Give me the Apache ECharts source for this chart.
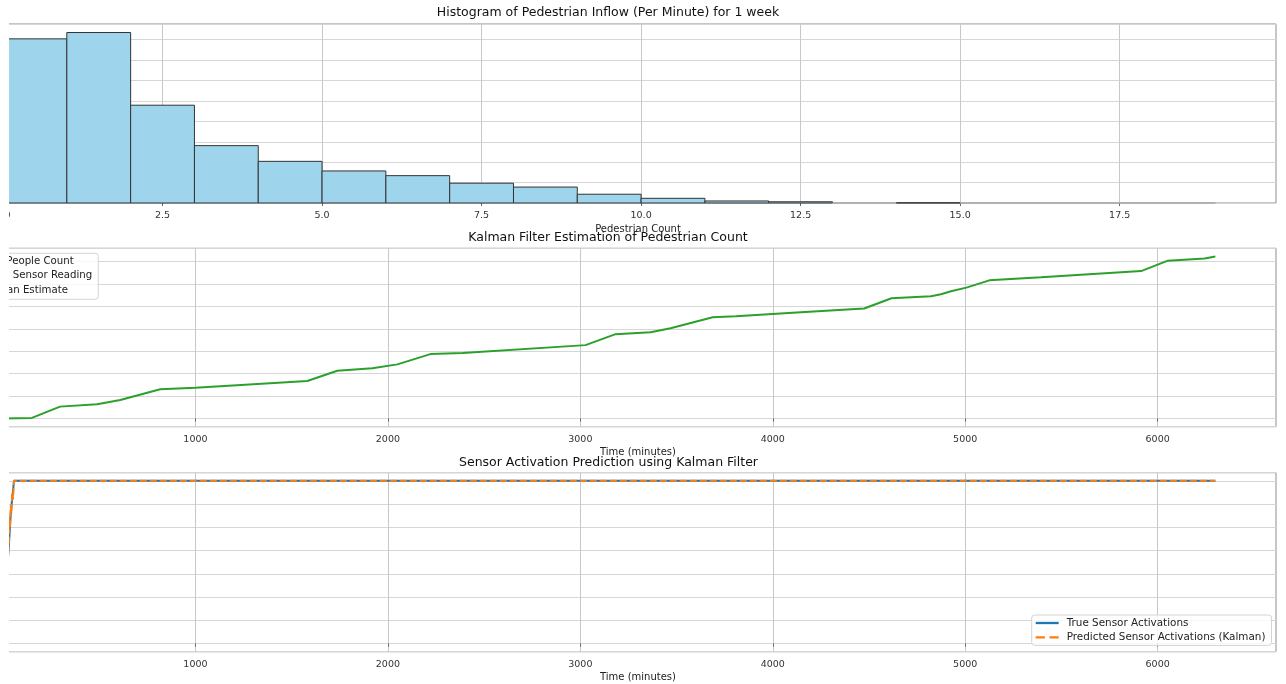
<!DOCTYPE html>
<html><head><meta charset="utf-8">
<script src="https://cdn.jsdelivr.net/npm/echarts@6/dist/echarts.min.js"></script>
<style>html,body{margin:0;padding:0;background:#fff}#c{width:1286px;height:684px}</style>
</head><body><div id="c"></div>
<script>
// ---- Panel 1: histogram of pedestrian inflow per minute ----
const histBinStart = [0,1,2,3,4,5,6,7,8,9,10,11,12,13,14,15,16,17,18];
const histBinEnd   = [1,2,3,4,5,6,7,8,9,10,11,12,13,14,15,16,17,18,19];
const histCounts   = [1608,1670,958,562,408,314,268,194,156,86,46,20,12,0,2,0,0,0,0];

// ---- Panel 2: Kalman estimate of cumulative pedestrian count ----
const kalmanTime = [0,150,296,489,609,817,999,1581,1737,1919,2049,2221,2388,3027,3183,3365,3469,3688,3808,4146,4475,4617,4822,4874,4926,5006,5125,5394,5914,6053,6244,6300];
const kalmanEstimate = [0,60,1067,1280,1662,2614,2756,3351,4267,4480,4836,5752,5841,6552,7530,7708,8063,9041,9130,9486,9815,10730,10908,11086,11352,11681,12330,12597,13157,14082,14286,14464];
const trueCountTime = [];
const trueCountValues = [];
const noisyTime = [];
const noisyValues = [];

// ---- Panel 3: sensor activation prediction ----
const sensorTrueTime = [0,10,20,31,36,42,50,57,6300];
const sensorTrue     = [0,1.5,3.0,4.3,5.0,5.8,6.4,7,7];
const sensorPredTime = [0,10,20,31,33,36,40,44,47,52,57,6300];
const sensorPred     = [0,1.1,2.8,4.5,5.5,5.0,5.9,5.6,6.5,6.2,7,7];

// tick steps / titles
const histXTickStep = 2.5;
const histYTickStep = 200;
const timeTickStep = 1000;
const kalmanYTickStep = 2000;
const sensorYTickStep = 1;
const titles = [
  'Histogram of Pedestrian Inflow (Per Minute) for 1 week',
  'Kalman Filter Estimation of Pedestrian Count',
  'Sensor Activation Prediction using Kalman Filter'
];
const legend2Names = ['True People Count','Noisy Sensor Reading','Kalman Estimate'];
const legend3Names = ['True Sensor Activations','Predicted Sensor Activations (Kalman)'];

const FONT = 'DejaVu Sans';
const histMax = Math.max(...histCounts) * 1.05;
const kMin = Math.min(...kalmanEstimate), kMax = Math.max(...kalmanEstimate), kR = kMax - kMin;
const sMin = 0, sMax = 7, sR = sMax - sMin;
// the picture is cropped: the visible area starts a little right of the real axes' left edge
const histXMin = -0.0473, histXMax = 19.95;
const timeXMin = -15.7, timeXMax = 6615;

const gridCommon = {left: 0, right: 10, show: true, borderColor: '#8a8a8a', borderWidth: 1,
  backgroundColor: 'transparent', outerBoundsMode: 'none', containLabel: false};
const vSplit = {show: true, lineStyle: {color: '#c8c8c8', width: 1}};
const hSplit = {show: true, lineStyle: {color: '#d6d6d6', width: 1}};
const tickLbl = {color: '#333', fontFamily: FONT, fontSize: 9.5, margin: 7.5, showMinLabel: false, showMaxLabel: false};
const nameTS = {color: '#222', fontFamily: FONT, fontSize: 10};
const titleStyle = {fontFamily: FONT, fontSize: 12.5, fill: '#111', align: 'center', verticalAlign: 'middle'};
const solidIcon = 'path://M0,0h20v2H0z';
const dashIcon = 'path://M0,0h8v2H0z M12,0h8v2h-8z';

const chart = echarts.init(document.getElementById('c'), null, {renderer: 'canvas'});
const option = {
  animation: false,
  backgroundColor: '#fff',
  grid: [
    Object.assign({top: 24, height: 179}, gridCommon),
    Object.assign({top: 248.3, height: 178.4}, gridCommon),
    Object.assign({top: 472.7, height: 179}, gridCommon)
  ],
  xAxis: [
    {gridIndex: 0, type: 'value', min: histXMin, max: histXMax, minInterval: histXTickStep, maxInterval: histXTickStep,
     axisLine: {show: false}, axisTick: {show: true, length: 3, lineStyle: {color: '#666'}},
     axisLabel: Object.assign({formatter: v => v.toFixed(1)}, tickLbl), splitLine: vSplit,
     name: 'Pedestrian Count', nameLocation: 'middle', nameGap: 21, nameTextStyle: nameTS},
    {gridIndex: 1, type: 'value', min: timeXMin, max: timeXMax, minInterval: timeTickStep, maxInterval: timeTickStep,
     axisLine: {show: false}, axisTick: {show: true, length: 3, lineStyle: {color: '#666'}},
     axisLabel: Object.assign({formatter: v => String(Math.round(v))}, tickLbl), splitLine: vSplit,
     name: 'Time (minutes)', nameLocation: 'middle', nameGap: 20.5, nameTextStyle: nameTS},
    {gridIndex: 2, type: 'value', min: timeXMin, max: timeXMax, minInterval: timeTickStep, maxInterval: timeTickStep,
     axisLine: {show: false}, axisTick: {show: true, length: 3, lineStyle: {color: '#666'}},
     axisLabel: Object.assign({formatter: v => String(Math.round(v))}, tickLbl), splitLine: vSplit,
     name: 'Time (minutes)', nameLocation: 'middle', nameGap: 20.5, nameTextStyle: nameTS}
  ],
  yAxis: [
    {gridIndex: 0, type: 'value', min: 0, max: histMax, interval: histYTickStep,
     axisLine: {show: false}, axisTick: {show: false}, axisLabel: {show: false}, splitLine: hSplit},
    {gridIndex: 1, type: 'value', min: kMin - 0.05 * kR, max: kMax + 0.05 * kR, minInterval: kalmanYTickStep, maxInterval: kalmanYTickStep,
     axisLine: {show: false}, axisTick: {show: false}, axisLabel: {show: false}, splitLine: hSplit},
    {gridIndex: 2, type: 'value', min: sMin - 0.05 * sR, max: sMax + 0.05 * sR, minInterval: sensorYTickStep, maxInterval: sensorYTickStep,
     axisLine: {show: false}, axisTick: {show: false}, axisLabel: {show: false}, splitLine: hSplit}
  ],
  legend: [
    {data: [{name: legend2Names[0], icon: solidIcon}, {name: legend2Names[1], icon: solidIcon}, {name: legend2Names[2], icon: solidIcon}],
     orient: 'vertical', left: -48.5, top: 253.3, padding: [3, 6, 4, 5],
     itemWidth: 20, itemHeight: 10, itemGap: 4.5, backgroundColor: 'rgba(255,255,255,0.8)',
     borderColor: '#d4d4d4', borderWidth: 1, borderRadius: 3,
     textStyle: {fontFamily: FONT, fontSize: 10.2, color: '#222', lineHeight: 10}},
    {data: [{name: legend3Names[0], icon: solidIcon}, {name: legend3Names[1], icon: dashIcon}],
     orient: 'vertical', left: 1031.7, top: 615, padding: [3, 6, 3, 4],
     itemWidth: 23, itemHeight: 10, itemGap: 4.4, backgroundColor: 'rgba(255,255,255,0.8)',
     borderColor: '#d4d4d4', borderWidth: 1, borderRadius: 3,
     textStyle: {fontFamily: FONT, fontSize: 10.4, color: '#222', lineHeight: 10, padding: [0, 0, 0, 3]}}
  ],
  series: [
    {type: 'custom', xAxisIndex: 0, yAxisIndex: 0, encode: {x: [0, 1], y: 2},
     data: histCounts.map((c, i) => [histBinStart[i], histBinEnd[i], c]),
     renderItem: (params, api) => {
       const p0 = api.coord([api.value(0), api.value(2)]);
       const p1 = api.coord([api.value(1), 0]);
       const empty = api.value(2) === 0;
       return {type: 'rect', shape: {x: p0[0], y: p0[1], width: p1[0] - p0[0], height: p1[1] - p0[1]},
               style: {fill: '#9fd5ec', stroke: empty ? '#a8a8a8' : '#333', lineWidth: 1}};
     }},
    {name: legend2Names[0], type: 'line', xAxisIndex: 1, yAxisIndex: 1, symbol: 'none', color: '#1f77b4',
     lineStyle: {width: 2}, data: trueCountTime.map((t, i) => [t, trueCountValues[i]])},
    {name: legend2Names[1], type: 'line', xAxisIndex: 1, yAxisIndex: 1, symbol: 'none', color: '#ff7f0e',
     lineStyle: {width: 2}, data: noisyTime.map((t, i) => [t, noisyValues[i]])},
    {name: legend2Names[2], type: 'line', xAxisIndex: 1, yAxisIndex: 1, symbol: 'none', color: '#2ca02c',
     lineStyle: {width: 2}, data: kalmanTime.map((t, i) => [t, kalmanEstimate[i]])},
    {name: legend3Names[0], type: 'line', xAxisIndex: 2, yAxisIndex: 2, symbol: 'none', color: '#1f77b4',
     lineStyle: {width: 2}, data: sensorTrueTime.map((t, i) => [t, sensorTrue[i]])},
    {name: legend3Names[1], type: 'line', xAxisIndex: 2, yAxisIndex: 2, symbol: 'none', color: '#ff7f0e', z: 3,
     lineStyle: {width: 2, type: [7, 3]}, data: sensorPredTime.map((t, i) => [t, sensorPred[i]])}
  ],
  graphic: {elements: [
    {type: 'text', x: 608, y: 13, z: 50, style: Object.assign({text: titles[0]}, titleStyle)},
    {type: 'text', x: 608, y: 238, z: 50, style: Object.assign({text: titles[1]}, titleStyle)},
    {type: 'text', x: 608.5, y: 463, z: 50, style: Object.assign({text: titles[2]}, titleStyle)},
    {type: 'rect', z: 100, shape: {x: 0, y: 0, width: 9, height: 684}, style: {fill: '#fff'}}
  ]}
};
chart.setOption(option);
</script></body></html>
